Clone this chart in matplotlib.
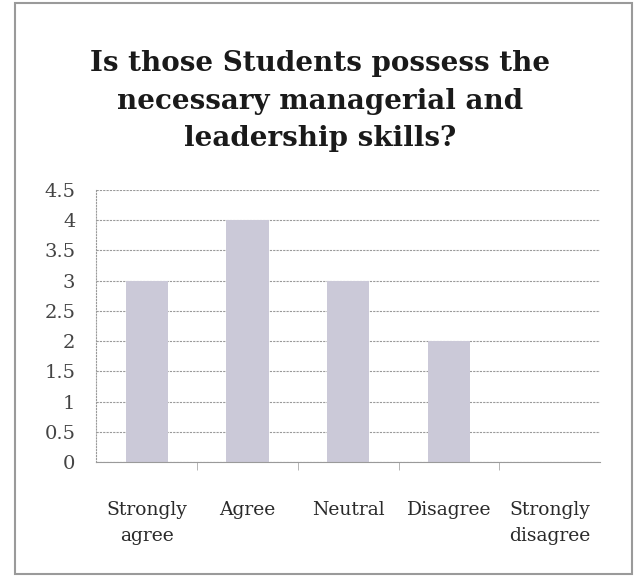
import matplotlib.pyplot as plt
from matplotlib.patches import Rectangle

categories = ['Strongly\nagree', 'Agree', 'Neutral', 'Disagree', 'Strongly\ndisagree']
values = [3, 4, 3, 2, 0]
yticks = [0, 0.5, 1, 1.5, 2, 2.5, 3, 3.5, 4, 4.5]
ytick_labels = ['0', '0.5', '1', '1.5', '2', '2.5', '3', '3.5', '4', '4.5']
title = 'Is those Students possess the\nnecessary managerial and\nleadership skills?'

plt.rcParams['font.family'] = ['DejaVu Serif']

fig = plt.figure(figsize=(6.42, 5.76), dpi=100)
ax = fig.add_axes([0.150, 0.198, 0.785, 0.472])

x = range(len(categories))
ax.bar(x, values, width=0.42, color='#cbc9d8', edgecolor='none', zorder=2)

ax.set_xlim(-0.5, len(categories) - 0.5)
ax.set_ylim(0, 4.5)
ax.set_yticks(yticks)
ax.set_yticklabels(ytick_labels, fontsize=14, color='#444444')
ax.set_xticks(list(x))
ax.set_xticklabels(categories, fontsize=13.5, color='#2a2a2a', linespacing=1.6)
ax.tick_params(axis='y', length=0, pad=15)
ax.tick_params(axis='x', length=0, pad=28)
ax.set_xticks([i + 0.5 for i in range(len(categories) - 1)], minor=True)
ax.tick_params(axis='x', which='minor', length=6, color='#aaaaaa', direction='out')

ax.yaxis.grid(True, linestyle=(0, (2, 1)), color='#9a9a9a', linewidth=0.8, zorder=0)
for side in ['top', 'right']:
    ax.spines[side].set_visible(False)
ax.spines['left'].set_linestyle(':')
ax.spines['left'].set_color('#9a9a9a')
ax.spines['bottom'].set_color('#9a9a9a')
ax.spines['bottom'].set_linewidth(0.8)

fig.text(0.498, 0.913, title, ha='center', va='top', fontsize=20,
         fontweight='bold', color='#1a1a1a', linespacing=1.5)

fig.patches.append(Rectangle((15 / 642, 0.004), 617 / 642, 0.99, transform=fig.transFigure,
                             fill=False, edgecolor='#9a9a9a', linewidth=1.5))

fig.savefig('out.png', dpi=100, facecolor='white')
